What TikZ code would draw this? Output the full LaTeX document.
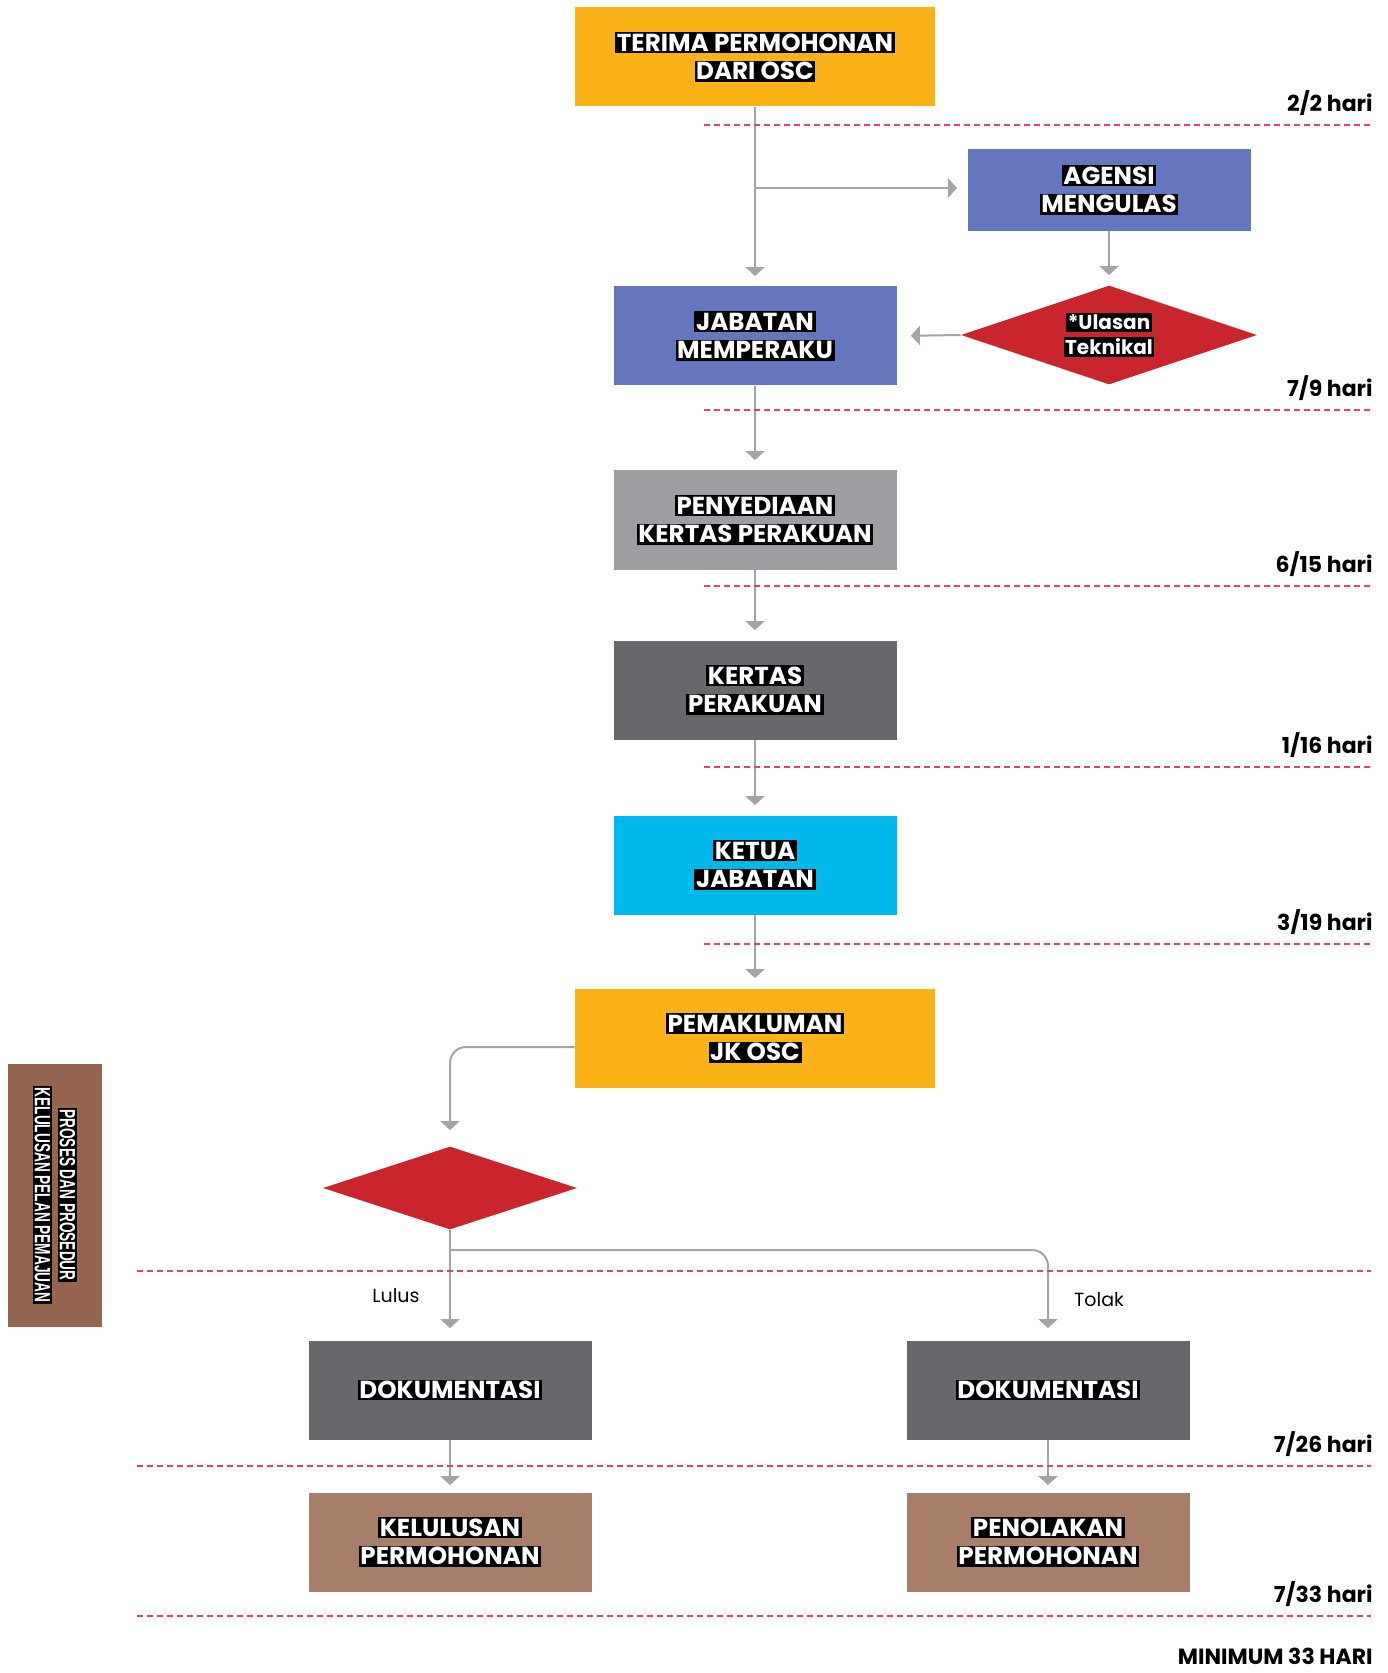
\documentclass[tikz,border=0pt]{standalone}
\usepackage{fontspec}
\setmainfont{Poppins}
\newfontfamily\narrowfont{Liberation Sans}
\usetikzlibrary{shapes.geometric, arrows.meta}

\definecolor{oscorange}{HTML}{FBB118}
\definecolor{agencyblue}{HTML}{6477BE}
\definecolor{decisionred}{HTML}{CA242C}
\definecolor{lightgrey}{HTML}{9D9EA2}
\definecolor{darkgrey}{HTML}{67686C}
\definecolor{headcyan}{HTML}{00B8EC}
\definecolor{resultbrown}{HTML}{A67E6A}
\definecolor{sidebrown}{HTML}{94654F}
\definecolor{linegrey}{HTML}{A3A4A8}
\definecolor{dashred}{HTML}{EB3F66}

\newcommand{\hl}[1]{{\setlength{\fboxsep}{0.8pt}\colorbox{black}{#1}}}

\begin{document}
\begin{tikzpicture}[x=0.5pt, y=-0.5pt,
  stage/.style={fill=#1, minimum width=141.5pt, minimum height=49.5pt,
                inner sep=0pt, text=white, align=center,
                font=\fontsize{12.3}{14.2}\selectfont\bfseries},
  widestage/.style={stage=#1, minimum width=180pt},
  decision/.style={diamond, aspect=3, fill=decisionred, inner sep=0pt,
                   text=white, align=center,
                   font=\fontsize{10}{12.5}\selectfont\bfseries},
  conn/.style={-{Triangle[width=9.5pt,length=4.5pt]}, line width=1pt,
               draw=linegrey, color=linegrey, shorten >=5pt},
  dayline/.style={dash pattern=on 3pt off 2pt, line width=1pt, draw=dashred},
  daylabel/.style={anchor=east, inner sep=0pt, font=\fontsize{11}{13}\selectfont\bfseries},
  branchlabel/.style={font=\fontsize{9.5}{11}\selectfont}
]
  \useasboundingbox (0,0) rectangle (1387,1673);

  % main stages
  \node[widestage=oscorange]   (terima) at (755,57)   {\hl{TERIMA PERMOHONAN}\\\hl{DARI OSC}};
  \node[stage=agencyblue, minimum height=41pt] (agensi) at (1109,190) {\hl{AGENSI}\\\hl{MENGULAS}};
  \node[decision, minimum width=148pt, minimum height=49.5pt] (ulasan) at (1109,335) {\hl{*Ulasan}\\\hl{Teknikal}};
  \node[stage=agencyblue]      (jabatan) at (755,336) {\hl{JABATAN}\\\hl{MEMPERAKU}};
  \node[stage=lightgrey]       (sedia)   at (755,520) {\hl{PENYEDIAAN}\\\hl{KERTAS PERAKUAN}};
  \node[stage=darkgrey]        (kertas)  at (755,690) {\hl{KERTAS}\\\hl{PERAKUAN}};
  \node[stage=headcyan]        (ketua)   at (755,865) {\hl{KETUA}\\\hl{JABATAN}};
  \node[widestage=oscorange]   (maklum)  at (755,1038) {\hl{PEMAKLUMAN}\\\hl{JK OSC}};
  \node[decision, minimum width=127pt, minimum height=41.5pt] (putus) at (450,1188) {};
  \node[stage=darkgrey]        (doklulus) at (450,1390)  {\hl{DOKUMENTASI}};
  \node[stage=darkgrey]        (doktolak) at (1048,1390) {\hl{DOKUMENTASI}};
  \node[stage=resultbrown]     (lulus)    at (450,1542)  {\hl{KELULUSAN}\\\hl{PERMOHONAN}};
  \node[stage=resultbrown]     (tolak)    at (1048,1542) {\hl{PENOLAKAN}\\\hl{PERMOHONAN}};

  % side title
  \node[fill=sidebrown, minimum width=131.5pt, minimum height=47pt, inner sep=0pt,
        rotate=-90, text=white, align=center,
        font=\narrowfont\fontsize{11}{12.5}\selectfont\bfseries] (judul) at (55,1195)
        {\hl{\scalebox{0.62}[1]{PROSES DAN PROSEDUR}}\\\hl{\scalebox{0.62}[1]{KELULUSAN PELAN PEMAJUAN}}};

  % connectors
  \coordinate (pisah1) at (755,188);
  \coordinate (pisah2) at (450,1250);
  \draw[conn] (terima) -- (jabatan);
  \draw[conn] (pisah1) -- (agensi.west |- pisah1);
  \draw[conn] (agensi) -- (ulasan);
  \draw[conn, shorten >=7pt] (ulasan.west) -- (jabatan.east);
  \draw[conn] (jabatan) -- (sedia);
  \draw[conn] (sedia) -- (kertas);
  \draw[conn] (kertas) -- (ketua);
  \draw[conn] (ketua) -- (maklum);
  \draw[conn, rounded corners=8pt, shorten >=8pt] ([yshift=-4.5pt]maklum.west) -| (putus.north);
  \draw[conn, shorten >=6pt] (putus.south) -- (doklulus.north);
  \draw[conn, rounded corners=8pt, shorten >=6pt] (pisah2) -| (doktolak.north);
  \draw[conn, shorten >=3.5pt] (doklulus) -- (lulus);
  \draw[conn, shorten >=3.5pt] (doktolak) -- (tolak);

  \node[branchlabel] (lbllulus) at (396,1296) {Lulus};
  \node[branchlabel] (lbltolak) at (1099,1300) {Tolak};

  % day markers
  \foreach \y/\txt in {125/2\slash2 hari, 410/7\slash9 hari, 586/6\slash15 hari,
                       767/1\slash16 hari, 944/3\slash19 hari} {
    \draw[dayline] (704,\y) -- (1373,\y);
    \node[daylabel] at (1373,\y-22) {\txt};
  }
  \foreach \y in {1271, 1466, 1616}
    \draw[dayline] (137,\y) -- (1371,\y);
  \node[daylabel] at (1373,1444) {7/26 hari};
  \node[daylabel] at (1373,1594) {7/33 hari};
  \node[daylabel] (jumlah) at (1373,1656) {MINIMUM 33 HARI};
\end{tikzpicture}
\end{document}
